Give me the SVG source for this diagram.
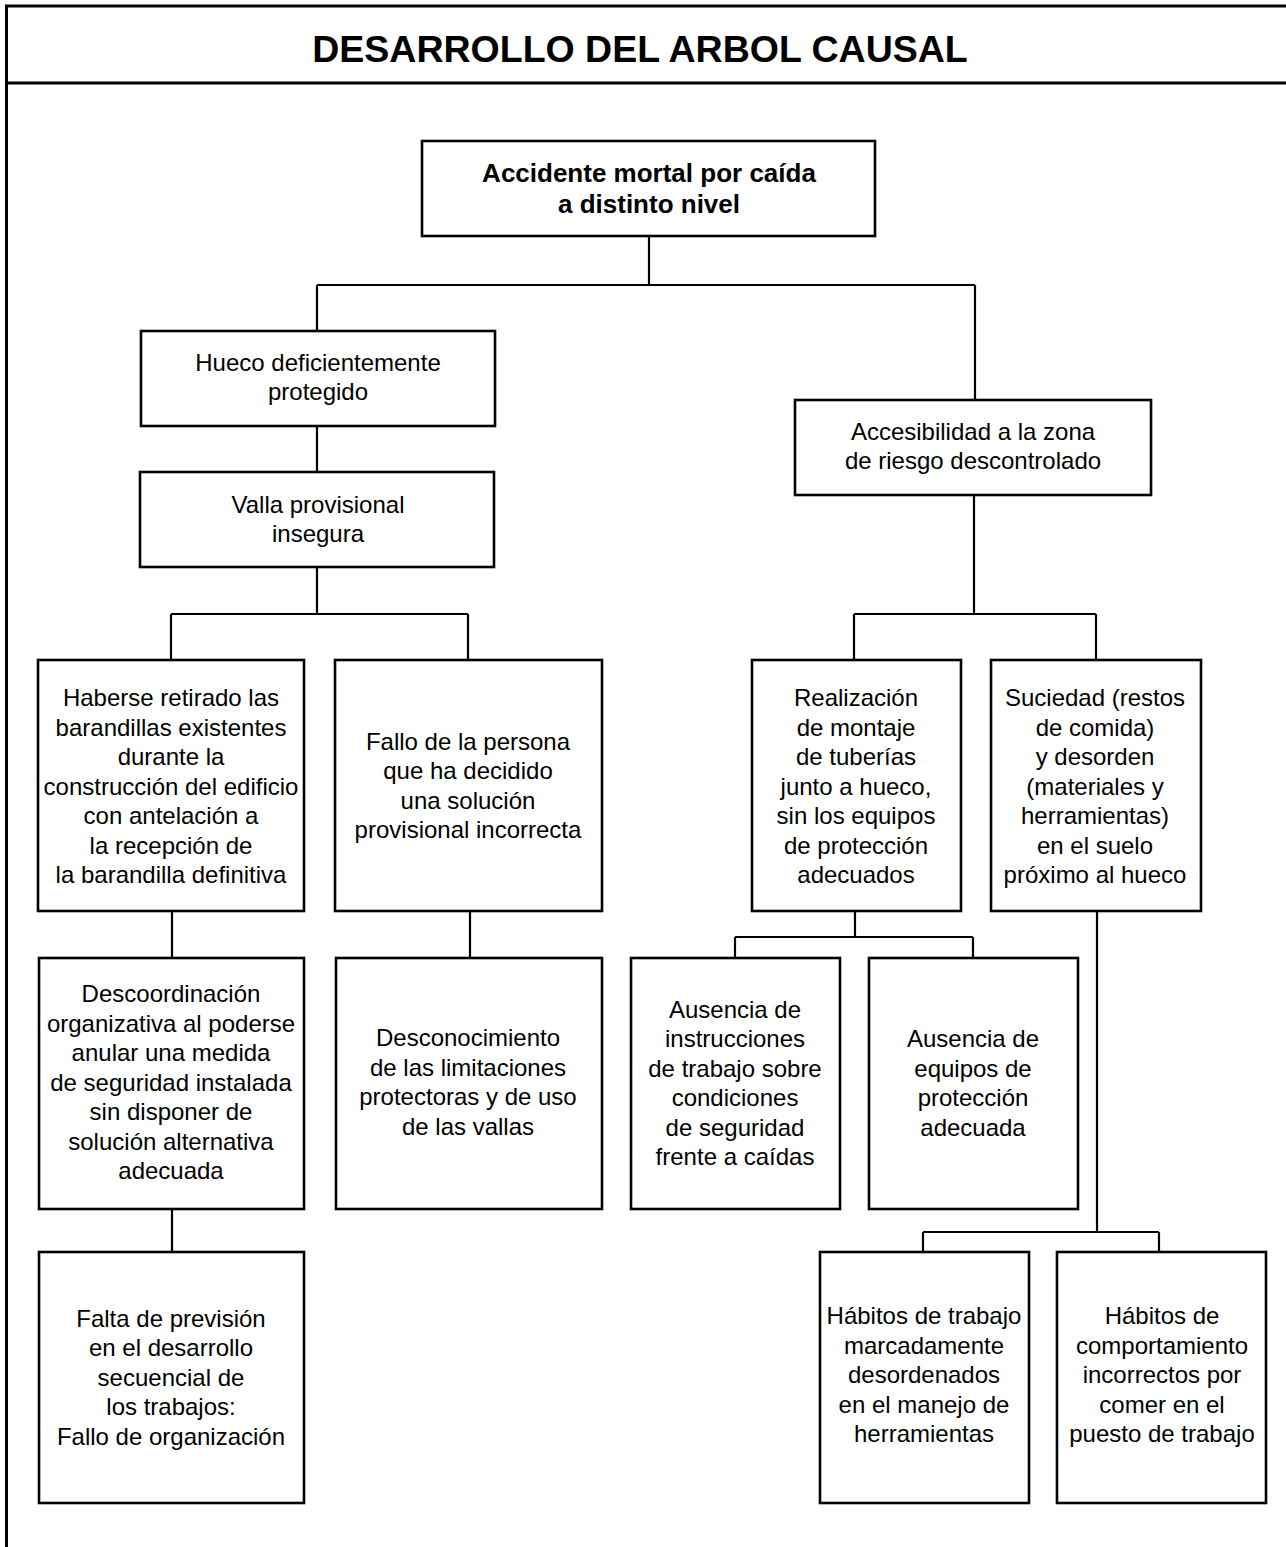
<svg xmlns="http://www.w3.org/2000/svg" width="1286" height="1547" viewBox="0 0 1286 1547">
<style>
.frame{stroke:#000;stroke-width:3;fill:none}
.box{fill:#fff;stroke:#000;stroke-width:2.6}
.con{stroke:#000;stroke-width:2.2;fill:none}
.t{font-family:"Liberation Sans",Arial,sans-serif;font-size:24px;text-anchor:middle;fill:#000}
.tb{font-family:"Liberation Sans",Arial,sans-serif;font-size:26px;font-weight:bold;text-anchor:middle;fill:#000}
.title{font-family:"Liberation Sans",Arial,sans-serif;font-size:37.5px;font-weight:bold;text-anchor:middle;fill:#000}
</style>
<rect width="1286" height="1547" fill="#fff"/>
<g id="frame">
<line class="frame" x1="5" y1="6" x2="1286" y2="6"/>
<line class="frame" x1="6.5" y1="5" x2="6.5" y2="1547"/>
<line class="frame" x1="6" y1="83" x2="1286" y2="83"/>
<text class="title" x="640" y="62">DESARROLLO DEL ARBOL CAUSAL</text>
</g>
<g id="connectors">
<path class="con" d="M649 236V285M317 285H975M317 285V331M975 285V401"/>
<path class="con" d="M317 425V472"/>
<path class="con" d="M317 567V614M171 614H468M171 614V660M468 614V660"/>
<path class="con" d="M974 494V614M854 614H1096M854 614V660M1096 614V660"/>
<path class="con" d="M172 911V958"/>
<path class="con" d="M470 911V958"/>
<path class="con" d="M855 911V937M735 937H973M735 937V958M973 937V958"/>
<path class="con" d="M1097 911V1232M923 1232H1159M923 1232V1252M1159 1232V1252"/>
<path class="con" d="M172 1209V1252"/>
</g>
<g id="n-accidente">
<rect class="box" x="422" y="141" width="453" height="95"/>
<text class="tb" x="649" y="182">Accidente mortal por caída</text>
<text class="tb" x="649" y="213">a distinto nivel</text>
</g>
<g id="n-hueco">
<rect class="box" x="141" y="331" width="354" height="95"/>
<text class="t" x="318" y="371">Hueco deficientemente</text>
<text class="t" x="318" y="400">protegido</text>
</g>
<g id="n-valla">
<rect class="box" x="140" y="472" width="354" height="95"/>
<text class="t" x="318" y="513">Valla provisional</text>
<text class="t" x="318" y="542">insegura</text>
</g>
<g id="n-accesibilidad">
<rect class="box" x="795" y="400" width="356" height="95"/>
<text class="t" x="973" y="440">Accesibilidad a la zona</text>
<text class="t" x="973" y="469">de riesgo descontrolado</text>
</g>
<g id="n-haberse">
<rect class="box" x="38" y="660" width="266" height="251"/>
<text class="t" x="171" y="706">Haberse retirado las</text>
<text class="t" x="171" y="736">barandillas existentes</text>
<text class="t" x="171" y="765">durante la</text>
<text class="t" x="171" y="795">construcción del edificio</text>
<text class="t" x="171" y="824">con antelación a</text>
<text class="t" x="171" y="854">la recepción de</text>
<text class="t" x="171" y="883">la barandilla definitiva</text>
</g>
<g id="n-fallo">
<rect class="box" x="335" y="660" width="267" height="251"/>
<text class="t" x="468" y="750">Fallo de la persona</text>
<text class="t" x="468" y="779">que ha decidido</text>
<text class="t" x="468" y="809">una solución</text>
<text class="t" x="468" y="838">provisional incorrecta</text>
</g>
<g id="n-realizacion">
<rect class="box" x="752" y="660" width="209" height="251"/>
<text class="t" x="856" y="706">Realización</text>
<text class="t" x="856" y="736">de montaje</text>
<text class="t" x="856" y="765">de tuberías</text>
<text class="t" x="856" y="795">junto a hueco,</text>
<text class="t" x="856" y="824">sin los equipos</text>
<text class="t" x="856" y="854">de protección</text>
<text class="t" x="856" y="883">adecuados</text>
</g>
<g id="n-suciedad">
<rect class="box" x="991" y="660" width="210" height="251"/>
<text class="t" x="1095" y="706">Suciedad (restos</text>
<text class="t" x="1095" y="736">de comida)</text>
<text class="t" x="1095" y="765">y desorden</text>
<text class="t" x="1095" y="795">(materiales y</text>
<text class="t" x="1095" y="824">herramientas)</text>
<text class="t" x="1095" y="854">en el suelo</text>
<text class="t" x="1095" y="883">próximo al hueco</text>
</g>
<g id="n-descoordinacion">
<rect class="box" x="39" y="958" width="265" height="251"/>
<text class="t" x="171" y="1002">Descoordinación</text>
<text class="t" x="171" y="1032">organizativa al poderse</text>
<text class="t" x="171" y="1061">anular una medida</text>
<text class="t" x="171" y="1091">de seguridad instalada</text>
<text class="t" x="171" y="1120">sin disponer de</text>
<text class="t" x="171" y="1150">solución alternativa</text>
<text class="t" x="171" y="1179">adecuada</text>
</g>
<g id="n-desconocimiento">
<rect class="box" x="336" y="958" width="266" height="251"/>
<text class="t" x="468" y="1046">Desconocimiento</text>
<text class="t" x="468" y="1076">de las limitaciones</text>
<text class="t" x="468" y="1105">protectoras y de uso</text>
<text class="t" x="468" y="1135">de las vallas</text>
</g>
<g id="n-ausencia-instrucciones">
<rect class="box" x="631" y="958" width="209" height="251"/>
<text class="t" x="735" y="1018">Ausencia de</text>
<text class="t" x="735" y="1047">instrucciones</text>
<text class="t" x="735" y="1077">de trabajo sobre</text>
<text class="t" x="735" y="1106">condiciones</text>
<text class="t" x="735" y="1136">de seguridad</text>
<text class="t" x="735" y="1165">frente a caídas</text>
</g>
<g id="n-ausencia-equipos">
<rect class="box" x="869" y="958" width="209" height="251"/>
<text class="t" x="973" y="1047">Ausencia de</text>
<text class="t" x="973" y="1077">equipos de</text>
<text class="t" x="973" y="1106">protección</text>
<text class="t" x="973" y="1136">adecuada</text>
</g>
<g id="n-falta">
<rect class="box" x="39" y="1252" width="265" height="251"/>
<text class="t" x="171" y="1327">Falta de previsión</text>
<text class="t" x="171" y="1356">en el desarrollo</text>
<text class="t" x="171" y="1386">secuencial de</text>
<text class="t" x="171" y="1415">los trabajos:</text>
<text class="t" x="171" y="1445">Fallo de organización</text>
</g>
<g id="n-habitos-trabajo">
<rect class="box" x="820" y="1252" width="209" height="251"/>
<text class="t" x="924" y="1324">Hábitos de trabajo</text>
<text class="t" x="924" y="1354">marcadamente</text>
<text class="t" x="924" y="1383">desordenados</text>
<text class="t" x="924" y="1413">en el manejo de</text>
<text class="t" x="924" y="1442">herramientas</text>
</g>
<g id="n-habitos-comportamiento">
<rect class="box" x="1057" y="1252" width="209" height="251"/>
<text class="t" x="1162" y="1324">Hábitos de</text>
<text class="t" x="1162" y="1354">comportamiento</text>
<text class="t" x="1162" y="1383">incorrectos por</text>
<text class="t" x="1162" y="1413">comer en el</text>
<text class="t" x="1162" y="1442">puesto de trabajo</text>
</g>
</svg>
